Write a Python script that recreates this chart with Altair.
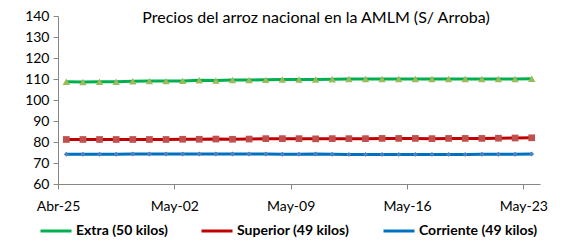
import altair as alt
import pandas as pd

# ---- data ----
start = "2025-04-25"
n_days = 29
series_names = ["Extra (50 kilos)", "Superior (49 kilos)", "Corriente (49 kilos)"]

extra = [108.7, 108.6, 108.7, 108.7, 108.9, 109.0, 109.0, 109.1, 109.4, 109.3,
         109.5, 109.5, 109.6, 109.8, 109.8, 109.8, 109.9, 110.0, 110.0, 110.0,
         110.0, 110.0, 110.0, 110.0, 110.0, 110.0, 110.0, 110.0, 110.1]
superior = [81.2, 81.2, 81.2, 81.2, 81.2, 81.2, 81.2, 81.3, 81.3, 81.4,
            81.3, 81.4, 81.6, 81.6, 81.6, 81.5, 81.6, 81.6, 81.6, 81.7,
            81.7, 81.7, 81.6, 81.7, 81.7, 81.7, 81.8, 81.9, 82.0]
corriente = [74.2, 74.2, 74.2, 74.2, 74.3, 74.3, 74.3, 74.3, 74.3, 74.3,
             74.3, 74.3, 74.3, 74.2, 74.2, 74.3, 74.2, 74.1, 74.1, 74.1,
             74.1, 74.1, 74.1, 74.1, 74.1, 74.2, 74.2, 74.2, 74.3]

line_colors = ["#00B050", "#C00000", "#0070C0"]
marker_colors = ["#9BBB59", "#C0504D", "#4F81BD"]
marker_shapes = ["triangle-up", "square", "diamond"]
marker_sizes = [55, 45, 24]

tick_dates = ["2025-04-25", "2025-05-02", "2025-05-09", "2025-05-16", "2025-05-23"]
title_text = "Precios del arroz nacional en la AMLM (S/ Arroba)"

# ---- table ----
dates = pd.date_range(start, periods=n_days, freq="D")
rows = []
for name, vals in zip(series_names, [extra, superior, corriente]):
    for d, v in zip(dates, vals):
        rows.append({"fecha": d.strftime("%Y-%m-%dT12:00:00Z"), "serie": name, "valor": v})
df = pd.DataFrame(rows)
df["label"] = df["valor"].map(lambda v: f"{v:.1f}")
last_date = dates[-1].strftime("%Y-%m-%dT12:00:00Z")


def dt(s):
    y, m, d = [int(p) for p in s.split("-")]
    return alt.DateTime(year=y, month=m, date=d, utc=True)


font = "Lato"
x_enc = alt.X(
    "fecha:T",
    scale=alt.Scale(type="utc", domain=[dt("2025-04-25"), dt("2025-05-24")]),
    axis=alt.Axis(
        values=[dt(s) for s in tick_dates],
        labelExpr="(utcmonth(datum.value)==3 ? 'Abr' : 'May') + '-' + utcFormat(datum.value, '%d')",
        title=None,
        labelPadding=10,
        labelFlush=False,
    ),
)
y_enc = alt.Y(
    "valor:Q",
    scale=alt.Scale(domain=[60, 140], nice=False, zero=False),
    axis=alt.Axis(values=list(range(60, 141, 10)), title=None, labelPadding=4),
)

base = alt.Chart(df)

lines = base.mark_line(strokeWidth=3).encode(
    x=x_enc,
    y=y_enc,
    stroke=alt.Stroke(
        "serie:N",
        scale=alt.Scale(domain=series_names, range=line_colors),
        legend=alt.Legend(
            title=None,
            orient="none",
            legendX=-19,
            legendY=198,
            direction="horizontal",
            symbolType="stroke",
            symbolSize=961,
            symbolStrokeWidth=3,
            labelFontSize=14,
            labelFontWeight="bold",
            labelFont=font,
            labelColor="black",
            labelOffset=3,
            columnPadding=27,
        ),
    ),
)

point_layers = []
for name, col, shp, sz in zip(series_names, marker_colors, marker_shapes, marker_sizes):
    point_layers.append(
        base.transform_filter(alt.datum.serie == name)
        .mark_point(filled=True, opacity=1, size=sz, shape=shp, color=col)
        .encode(x=x_enc, y=y_enc)
    )

last = base.transform_filter(alt.datum.fecha == last_date)
labels_green = last.transform_filter(alt.datum.serie == series_names[0]).mark_text(
    align="left", baseline="middle", dx=3, fontSize=15, font=font, color="black"
).encode(x=x_enc, y=y_enc, text="label:N")
labels_other = last.transform_filter(alt.datum.serie != series_names[0]).mark_text(
    align="left", baseline="middle", dx=10, fontSize=15, font=font, color="black"
).encode(x=x_enc, y=y_enc, text="label:N")

chart = (
    alt.layer(lines, *point_layers, labels_green, labels_other)
    .properties(
        width=482,
        height=168,
        autosize=alt.AutoSizeParams(type="none"),
        padding={"left": 50, "top": 8, "right": 33, "bottom": 53},
        title=alt.TitleParams(
            title_text, anchor="middle", dx=17, offset=-17, fontSize=16,
            fontWeight="normal", font=font, color="black",
        ),
    )
    .configure_view(stroke=None)
    .configure_axis(
        grid=False,
        domainColor="#868686",
        tickColor="#868686",
        tickSize=5,
        labelFontSize=14,
        labelFont=font,
        labelColor="black",
    )
)

chart.save("out.html", embed_options={"renderer": "svg", "actions": False})
